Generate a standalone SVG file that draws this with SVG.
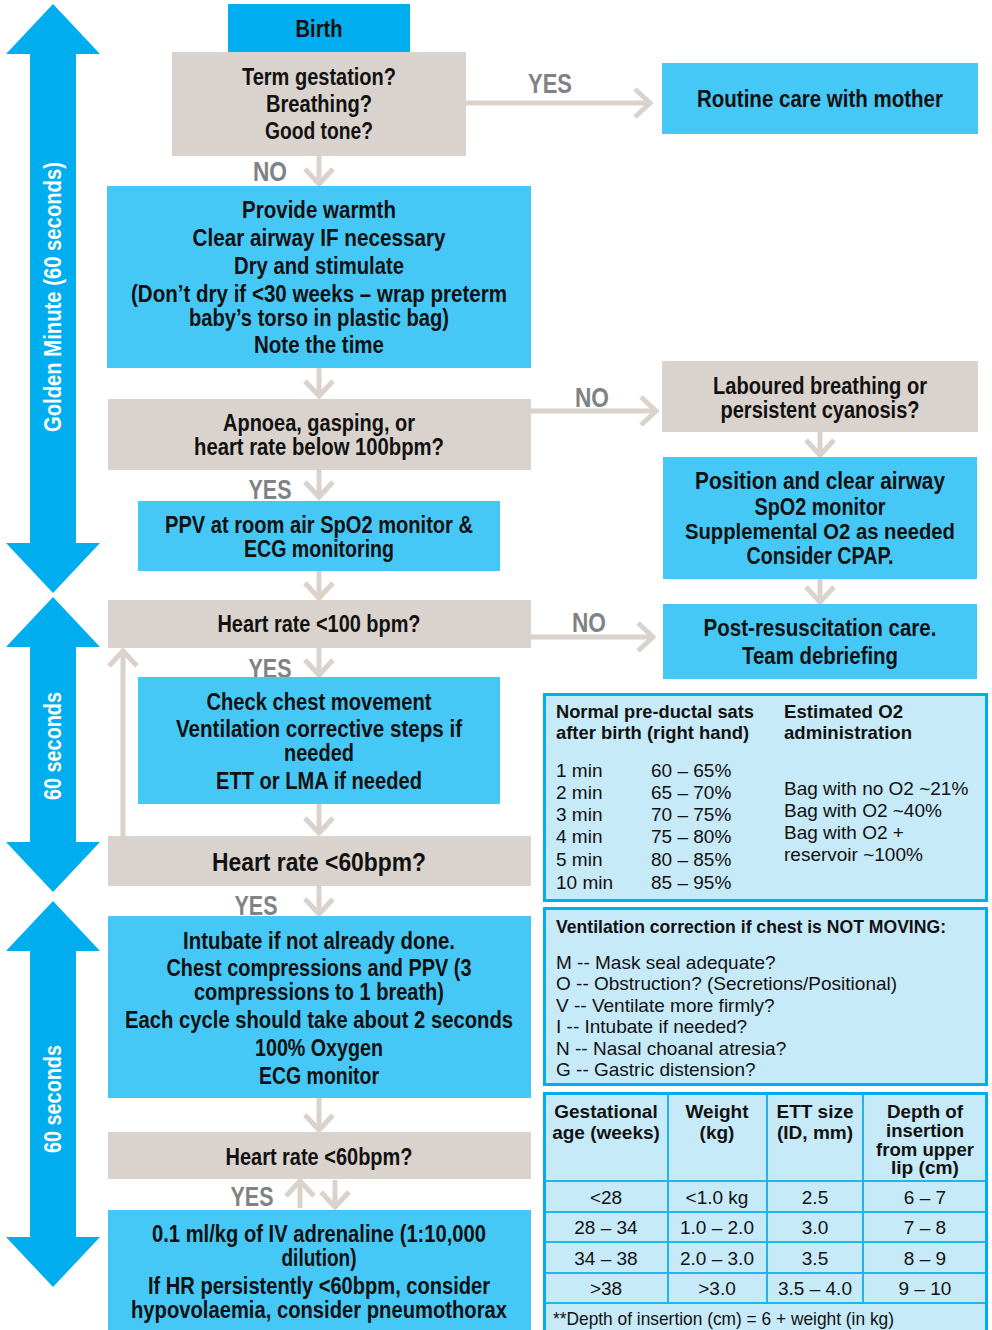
<svg xmlns="http://www.w3.org/2000/svg" width="992" height="1330" viewBox="0 0 992 1330">
  <style>
    .b { font-family: "Liberation Sans", Arial, sans-serif; font-weight: bold; font-size: 23.5px; text-anchor: middle; fill: #111; }
    .lg { font-size: 26.5px; }
    .nar { font-size: 22px; }
    .lbl { font-family: "Liberation Sans", Arial, sans-serif; font-weight: bold; font-size: 27px; text-anchor: middle; fill: #808285; }
    .side { font-family: "Liberation Sans", Arial, sans-serif; font-weight: bold; font-size: 23px; text-anchor: middle; fill: #fff; }
    .t { font-family: "Liberation Sans", Arial, sans-serif; font-size: 19px; fill: #111; }
    .th { font-family: "Liberation Sans", Arial, sans-serif; font-weight: bold; font-size: 19px; fill: #111; }
    .sm { font-size: 18px; }
    .c { text-anchor: middle; }
    .blue { fill: #45C8F5; }
    .dark { fill: #00AEEF; }
    .grey { fill: #DAD2CC; }
    .panel { fill: #C7EAF9; stroke: #00AEEF; stroke-width: 3; }
    .grid { stroke: #22B4EC; stroke-width: 2; fill: none; }
    .con { stroke: #DAD2CB; stroke-width: 5; fill: none; marker-end: url(#ah); }
  </style>
  <defs>
    <marker id="ah" markerUnits="userSpaceOnUse" markerWidth="30" markerHeight="40" viewBox="-22 -20 30 40" refX="0" refY="0" orient="auto" overflow="visible">
      <path d="M-15,-14 L0,0 L-15,14" fill="none" stroke="#DAD2CB" stroke-width="5"/>
    </marker>
  </defs>

  <!-- timing arrows on the left -->
  <g id="timeline">
    <polygon class="dark" points="53,4 100,54 76,54 76,543 100,543 53,593 6,543 30,543 30,54 6,54"/>
    <text class="side" transform="translate(53,297) rotate(-90)" x="0" y="8" textLength="270" lengthAdjust="spacingAndGlyphs">Golden Minute (60 seconds)</text>
    <polygon class="dark" points="53,597 100,647 76,647 76,842 100,842 53,892 6,842 30,842 30,647 6,647"/>
    <text class="side" transform="translate(53,746) rotate(-90)" x="0" y="8" textLength="108" lengthAdjust="spacingAndGlyphs">60 seconds</text>
    <polygon class="dark" points="53,901 100,951 76,951 76,1237 100,1237 53,1287 6,1237 30,1237 30,951 6,951"/>
    <text class="side" transform="translate(53,1099) rotate(-90)" x="0" y="8" textLength="108" lengthAdjust="spacingAndGlyphs">60 seconds</text>
  </g>

  <!-- connectors -->
  <g id="connectors">
    <path class="con" d="M466,103 H650"/>
    <path class="con" d="M319,156 V184"/>
    <path class="con" d="M319,368 V396"/>
    <path class="con" d="M531,411 H656"/>
    <path class="con" d="M820,432 V455"/>
    <path class="con" d="M319,470 V497"/>
    <path class="con" d="M820,579 V602"/>
    <path class="con" d="M319,571 V598"/>
    <path class="con" d="M531,637 H653"/>
    <path class="con" d="M319,648 V675"/>
    <path class="con" d="M123,836 V651"/>
    <path class="con" d="M319,804 V833"/>
    <path class="con" d="M319,886 V914"/>
    <path class="con" d="M319,1098 V1130"/>
    <path class="con" d="M300,1208 V1181"/>
    <path class="con" d="M335,1180 V1207"/>
    <text class="lbl" x="550" y="93" textLength="44" lengthAdjust="spacingAndGlyphs">YES</text>
    <text class="lbl" x="270" y="181" textLength="34" lengthAdjust="spacingAndGlyphs">NO</text>
    <text class="lbl" x="592" y="407" textLength="34" lengthAdjust="spacingAndGlyphs">NO</text>
    <text class="lbl" x="270" y="499" textLength="43" lengthAdjust="spacingAndGlyphs">YES</text>
    <text class="lbl" x="589" y="632" textLength="34" lengthAdjust="spacingAndGlyphs">NO</text>
    <text class="lbl" x="270" y="678" textLength="43" lengthAdjust="spacingAndGlyphs">YES</text>
    <text class="lbl" x="256" y="915" textLength="43" lengthAdjust="spacingAndGlyphs">YES</text>
    <text class="lbl" x="252" y="1206" textLength="43" lengthAdjust="spacingAndGlyphs">YES</text>
  </g>

  <g id="birth">
    <rect class="dark" x="228" y="4" width="182" height="48"/>
    <text class="b" x="319" y="37" textLength="47" lengthAdjust="spacingAndGlyphs">Birth</text>
  </g>

  <g id="term-check">
    <rect class="grey" x="172" y="52" width="294" height="104"/>
    <text class="b" x="319" y="85" textLength="154" lengthAdjust="spacingAndGlyphs">Term gestation?</text>
    <text class="b" x="319" y="112" textLength="106" lengthAdjust="spacingAndGlyphs">Breathing?</text>
    <text class="b" x="319" y="139" textLength="108" lengthAdjust="spacingAndGlyphs">Good tone?</text>
  </g>

  <g id="routine-care">
    <rect class="blue" x="662" y="63" width="316" height="71"/>
    <text class="b" x="820" y="107" textLength="246" lengthAdjust="spacingAndGlyphs">Routine care with mother</text>
  </g>

  <g id="initial-steps">
    <rect class="blue" x="107" y="186" width="424" height="182"/>
    <text class="b" x="319" y="218" textLength="154" lengthAdjust="spacingAndGlyphs">Provide warmth</text>
    <text class="b" x="319" y="246" textLength="253" lengthAdjust="spacingAndGlyphs">Clear airway IF necessary</text>
    <text class="b" x="319" y="274" textLength="170" lengthAdjust="spacingAndGlyphs">Dry and stimulate</text>
    <text class="b" x="319" y="302" textLength="376" lengthAdjust="spacingAndGlyphs">(Don’t dry if &lt;30 weeks – wrap preterm</text>
    <text class="b" x="319" y="326" textLength="260" lengthAdjust="spacingAndGlyphs">baby’s torso in plastic bag)</text>
    <text class="b" x="319" y="353" textLength="130" lengthAdjust="spacingAndGlyphs">Note the time</text>
  </g>

  <g id="apnoea-check">
    <rect class="grey" x="108" y="399" width="423" height="71"/>
    <text class="b" x="319" y="431" textLength="192" lengthAdjust="spacingAndGlyphs">Apnoea, gasping, or</text>
    <text class="b" x="319" y="455" textLength="250" lengthAdjust="spacingAndGlyphs">heart rate below 100bpm?</text>
  </g>

  <g id="laboured-check">
    <rect class="grey" x="662" y="361" width="316" height="71"/>
    <text class="b" x="820" y="394" textLength="214" lengthAdjust="spacingAndGlyphs">Laboured breathing or</text>
    <text class="b" x="820" y="418" textLength="199" lengthAdjust="spacingAndGlyphs">persistent cyanosis?</text>
  </g>

  <g id="position-airway">
    <rect class="blue" x="663" y="457" width="314" height="122"/>
    <text class="b" x="820" y="489" textLength="250" lengthAdjust="spacingAndGlyphs">Position and clear airway</text>
    <text class="b" x="820" y="515" textLength="131" lengthAdjust="spacingAndGlyphs">SpO2 monitor</text>
    <text class="b nar" x="820" y="539" textLength="270" lengthAdjust="spacingAndGlyphs">Supplemental O2 as needed</text>
    <text class="b" x="820" y="564" textLength="147" lengthAdjust="spacingAndGlyphs">Consider CPAP.</text>
  </g>

  <g id="ppv">
    <rect class="blue" x="138" y="501" width="362" height="70"/>
    <text class="b" x="319" y="533" textLength="308" lengthAdjust="spacingAndGlyphs">PPV at room air SpO2 monitor &amp;</text>
    <text class="b" x="319" y="557" textLength="150" lengthAdjust="spacingAndGlyphs">ECG monitoring</text>
  </g>

  <g id="hr100-check">
    <rect class="grey" x="108" y="600" width="423" height="48"/>
    <text class="b" x="319" y="632" textLength="203" lengthAdjust="spacingAndGlyphs">Heart rate &lt;100 bpm?</text>
  </g>

  <g id="post-resus">
    <rect class="blue" x="663" y="604" width="314" height="75"/>
    <text class="b" x="820" y="636" textLength="233" lengthAdjust="spacingAndGlyphs">Post-resuscitation care.</text>
    <text class="b" x="820" y="664" textLength="156" lengthAdjust="spacingAndGlyphs">Team debriefing</text>
  </g>

  <g id="chest-movement">
    <rect class="blue" x="138" y="677" width="362" height="127"/>
    <text class="b" x="319" y="710" textLength="225" lengthAdjust="spacingAndGlyphs">Check chest movement</text>
    <text class="b" x="319" y="737" textLength="286" lengthAdjust="spacingAndGlyphs">Ventilation corrective steps if</text>
    <text class="b" x="319" y="761" textLength="70" lengthAdjust="spacingAndGlyphs">needed</text>
    <text class="b" x="319" y="789" textLength="206" lengthAdjust="spacingAndGlyphs">ETT or LMA if needed</text>
  </g>

  <g id="hr60-check">
    <rect class="grey" x="108" y="836" width="423" height="50"/>
    <text class="b lg" x="319" y="871" textLength="214" lengthAdjust="spacingAndGlyphs">Heart rate &lt;60bpm?</text>
  </g>

  <g id="compressions">
    <rect class="blue" x="108" y="916" width="423" height="182"/>
    <text class="b" x="319" y="949" textLength="272" lengthAdjust="spacingAndGlyphs">Intubate if not already done.</text>
    <text class="b" x="319" y="976" textLength="305" lengthAdjust="spacingAndGlyphs">Chest compressions and PPV (3</text>
    <text class="b" x="319" y="1000" textLength="250" lengthAdjust="spacingAndGlyphs">compressions to 1 breath)</text>
    <text class="b" x="319" y="1028" textLength="388" lengthAdjust="spacingAndGlyphs">Each cycle should take about 2 seconds</text>
    <text class="b" x="319" y="1056" textLength="128" lengthAdjust="spacingAndGlyphs">100% Oxygen</text>
    <text class="b" x="319" y="1084" textLength="120" lengthAdjust="spacingAndGlyphs">ECG monitor</text>
  </g>

  <g id="hr60-recheck">
    <rect class="grey" x="108" y="1132" width="423" height="47"/>
    <text class="b" x="319" y="1165" textLength="187" lengthAdjust="spacingAndGlyphs">Heart rate &lt;60bpm?</text>
  </g>

  <g id="adrenaline">
    <rect class="blue" x="108" y="1210" width="423" height="120"/>
    <text class="b" x="319" y="1242" textLength="334" lengthAdjust="spacingAndGlyphs">0.1 ml/kg of IV adrenaline (1:10,000</text>
    <text class="b" x="319" y="1266" textLength="75" lengthAdjust="spacingAndGlyphs">dilution)</text>
    <text class="b" x="319" y="1294" textLength="342" lengthAdjust="spacingAndGlyphs">If HR persistently &lt;60bpm, consider</text>
    <text class="b" x="319" y="1318" textLength="376" lengthAdjust="spacingAndGlyphs">hypovolaemia, consider pneumothorax</text>
  </g>

  <!-- reference panel: saturations and oxygen -->
  <g id="sats-panel">
    <rect class="panel" x="544.5" y="694.5" width="442" height="206"/>
    <text class="th" x="556" y="718" textLength="198" lengthAdjust="spacingAndGlyphs">Normal pre-ductal sats</text>
    <text class="th" x="556" y="739" textLength="193" lengthAdjust="spacingAndGlyphs">after birth (right hand)</text>
    <text class="th" x="784" y="718" textLength="119" lengthAdjust="spacingAndGlyphs">Estimated O2</text>
    <text class="th" x="784" y="739" textLength="128" lengthAdjust="spacingAndGlyphs">administration</text>
    <text class="t" x="556" y="777">1 min</text>
    <text class="t" x="556" y="799">2 min</text>
    <text class="t" x="556" y="821">3 min</text>
    <text class="t" x="556" y="843">4 min</text>
    <text class="t" x="556" y="866">5 min</text>
    <text class="t" x="556" y="889">10 min</text>
    <text class="t" x="651" y="777">60 – 65%</text>
    <text class="t" x="651" y="799">65 – 70%</text>
    <text class="t" x="651" y="821">70 – 75%</text>
    <text class="t" x="651" y="843">75 – 80%</text>
    <text class="t" x="651" y="866">80 – 85%</text>
    <text class="t" x="651" y="889">85 – 95%</text>
    <text class="t" x="784" y="795">Bag with no O2 ~21%</text>
    <text class="t" x="784" y="817">Bag with O2 ~40%</text>
    <text class="t" x="784" y="839">Bag with O2 +</text>
    <text class="t" x="784" y="861">reservoir ~100%</text>
  </g>

  <!-- reference panel: ventilation correction steps -->
  <g id="ventilation-panel">
    <rect class="panel" x="544.5" y="908.5" width="442" height="176"/>
    <text class="th" x="556" y="933" textLength="390" lengthAdjust="spacingAndGlyphs">Ventilation correction if chest is NOT MOVING:</text>
    <text class="t" x="556" y="969">M -- Mask seal adequate?</text>
    <text class="t" x="556" y="990">O -- Obstruction? (Secretions/Positional)</text>
    <text class="t" x="556" y="1012">V -- Ventilate more firmly?</text>
    <text class="t" x="556" y="1033">I -- Intubate if needed?</text>
    <text class="t" x="556" y="1055">N -- Nasal choanal atresia?</text>
    <text class="t" x="556" y="1076">G -- Gastric distension?</text>
  </g>

  <!-- reference panel: tube size table -->
  <g id="ett-table">
    <rect class="panel" x="544.5" y="1093.5" width="442" height="240"/>
    <path class="grid" d="M668,1095 V1303 M767,1095 V1303 M863,1095 V1303 M546,1181 H985 M546,1212 H985 M546,1242 H985 M546,1273 H985 M546,1303 H985"/>
    <text class="th c" x="606" y="1118">Gestational</text>
    <text class="th c" x="606" y="1139">age (weeks)</text>
    <text class="th c" x="717" y="1118">Weight</text>
    <text class="th c" x="717" y="1139">(kg)</text>
    <text class="th c" x="815" y="1118">ETT size</text>
    <text class="th c" x="815" y="1139">(ID, mm)</text>
    <text class="th c sm" x="925" y="1118" textLength="76" lengthAdjust="spacingAndGlyphs">Depth of</text>
    <text class="th c sm" x="925" y="1137" textLength="78" lengthAdjust="spacingAndGlyphs">insertion</text>
    <text class="th c sm" x="925" y="1156" textLength="98" lengthAdjust="spacingAndGlyphs">from upper</text>
    <text class="th c sm" x="925" y="1174" textLength="68" lengthAdjust="spacingAndGlyphs">lip (cm)</text>
    <text class="t c" x="606" y="1204">&lt;28</text>
    <text class="t c" x="717" y="1204">&lt;1.0 kg</text>
    <text class="t c" x="815" y="1204">2.5</text>
    <text class="t c" x="925" y="1204">6 – 7</text>
    <text class="t c" x="606" y="1234">28 – 34</text>
    <text class="t c" x="717" y="1234">1.0 – 2.0</text>
    <text class="t c" x="815" y="1234">3.0</text>
    <text class="t c" x="925" y="1234">7 – 8</text>
    <text class="t c" x="606" y="1265">34 – 38</text>
    <text class="t c" x="717" y="1265">2.0 – 3.0</text>
    <text class="t c" x="815" y="1265">3.5</text>
    <text class="t c" x="925" y="1265">8 – 9</text>
    <text class="t c" x="606" y="1295">&gt;38</text>
    <text class="t c" x="717" y="1295">&gt;3.0</text>
    <text class="t c" x="815" y="1295">3.5 – 4.0</text>
    <text class="t c" x="925" y="1295">9 – 10</text>
    <text class="t" x="553" y="1325" textLength="341" lengthAdjust="spacingAndGlyphs">**Depth of insertion (cm) = 6 + weight (in kg)</text>
  </g>
</svg>
